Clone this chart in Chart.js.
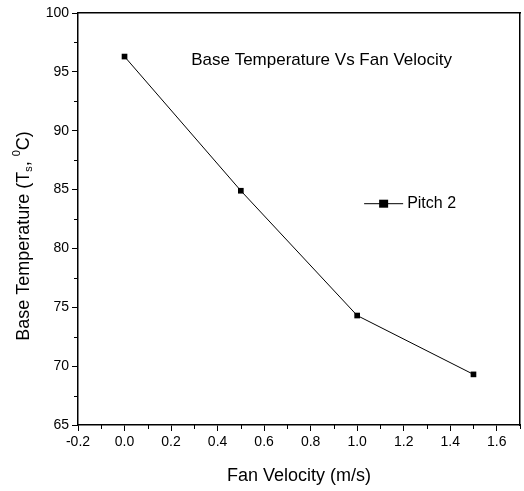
<!DOCTYPE html>
<html>
<head>
<meta charset="utf-8">
<script src="https://cdn.jsdelivr.net/npm/chart.js@4"></script>
<style>
  html, body { margin: 0; padding: 0; background: #fff; }
  #wrap { width: 524px; height: 491px; }
</style>
</head>
<body>
<div id="wrap"><canvas id="grafico"></canvas></div>
<script>
const velocidades = [0.0, 0.5, 1.0, 1.5];
const temperaturas = [96.3, 84.9, 74.3, 69.3];
const nomeSerie = 'Pitch 2';
const tituloGrafico = 'Base Temperature Vs Fan Velocity';
const fonte = '"Liberation Sans", Arial, Helvetica, sans-serif';

// minor ticks, title inside plot, legend and y axis title with sub/superscript
const extras = {
    id: 'extras',
    afterDraw(chart) {
        const ctx = chart.ctx;
        const area = chart.chartArea;
        const x = chart.scales.x;
        const y = chart.scales.y;
        ctx.save();
        ctx.strokeStyle = '#000';
        ctx.lineWidth = 1;

        // minor ticks
        ctx.beginPath();
        for (let k = -1; k <= 17; k += 2) {
            const px = Math.round(x.getPixelForValue(k / 10)) + 0.5;
            ctx.moveTo(px, area.bottom);
            ctx.lineTo(px, area.bottom + 4);
        }
        for (let v = 67.5; v < 100; v += 5) {
            const py = Math.round(y.getPixelForValue(v)) + 0.5;
            ctx.moveTo(area.left, py);
            ctx.lineTo(area.left - 4, py);
        }
        ctx.stroke();

        // titulo dentro do grafico
        ctx.fillStyle = '#000';
        ctx.font = '17px ' + fonte;
        ctx.textAlign = 'center';
        ctx.textBaseline = 'middle';
        ctx.fillText(tituloGrafico, x.getPixelForValue(0.847), y.getPixelForValue(96.0));

        // legenda
        const ly = y.getPixelForValue(83.8);
        const lx = x.getPixelForValue(1.03);
        ctx.beginPath();
        ctx.moveTo(lx, ly);
        ctx.lineTo(lx + 39, ly);
        ctx.stroke();
        ctx.fillRect(lx + 15, ly - 4, 9, 8);
        ctx.font = '16px ' + fonte;
        ctx.textAlign = 'left';
        ctx.fillText(nomeSerie, lx + 43, ly);

        // titulo do eixo y
        ctx.translate(24, 236);
        ctx.rotate(-Math.PI / 2);
        const partes = [
            ['Base Temperature (T', 18, 0],
            ['s', 11, 5],
            [', ', 18, 0],
            ['0', 11, -7],
            ['C)', 18, 0]
        ];
        let total = 0;
        partes.forEach(p => { ctx.font = p[1] + 'px ' + fonte; total += ctx.measureText(p[0]).width; });
        let pos = -total / 2;
        ctx.textAlign = 'left';
        partes.forEach(p => {
            ctx.font = p[1] + 'px ' + fonte;
            ctx.fillText(p[0], pos, p[2]);
            pos += ctx.measureText(p[0]).width;
        });
        ctx.restore();
    }
};

const ctx = document.getElementById('grafico').getContext('2d');
new Chart(ctx, {
    type: 'line',
    data: {
        datasets: [{
            label: nomeSerie,
            data: velocidades.map((v, i) => ({ x: v, y: temperaturas[i] })),
            borderColor: '#000',
            backgroundColor: '#000',
            borderWidth: 1,
            pointStyle: 'rect',
            pointRadius: 4,
            pointBorderWidth: 0,
            tension: 0
        }]
    },
    options: {
        responsive: true,
        maintainAspectRatio: false,
        animation: false,
        layout: { padding: { top: 13, right: -3, left: 0, bottom: 0 } },
        plugins: {
            legend: { display: false },
            tooltip: { enabled: false }
        },
        scales: {
            x: {
                type: 'linear',
                min: -0.2,
                max: 1.7,
                afterFit: s => { s.height = 66; },
                afterBuildTicks: s => {
                    s.ticks = [];
                    for (let k = -2; k <= 16; k += 2) s.ticks.push({ value: k / 10 });
                },
                border: { color: '#000', width: 1.5 },
                grid: { drawOnChartArea: false, drawTicks: true, tickLength: 6, color: '#000' },
                ticks: {
                    color: '#000',
                    padding: 3,
                    maxRotation: 0,
                    font: { family: fonte, size: 14 },
                    callback: v => v.toFixed(1)
                },
                title: {
                    display: true,
                    text: 'Fan Velocity (m/s)',
                    color: '#000',
                    font: { family: fonte, size: 18 },
                    padding: { top: 10 }
                }
            },
            x2: {
                type: 'linear',
                position: 'top',
                min: -0.2,
                max: 1.7,
                afterFit: s => { s.height = 0; },
                border: { color: '#000', width: 1.5 },
                grid: { display: false },
                ticks: { display: false }
            },
            y: {
                type: 'linear',
                min: 65,
                max: 100,
                afterFit: s => { s.width = 78; },
                afterBuildTicks: s => {
                    s.ticks = [];
                    for (let v = 65; v <= 100; v += 5) s.ticks.push({ value: v });
                },
                border: { color: '#000', width: 1.5 },
                grid: { drawOnChartArea: false, drawTicks: true, tickLength: 6, color: '#000' },
                ticks: {
                    color: '#000',
                    padding: 3,
                    font: { family: fonte, size: 14 }
                }
            },
            y2: {
                type: 'linear',
                position: 'right',
                min: 65,
                max: 100,
                afterFit: s => { s.width = 0; },
                border: { color: '#000', width: 1.5 },
                grid: { display: false },
                ticks: { display: false }
            }
        }
    },
    plugins: [extras]
});
</script>
</body>
</html>
